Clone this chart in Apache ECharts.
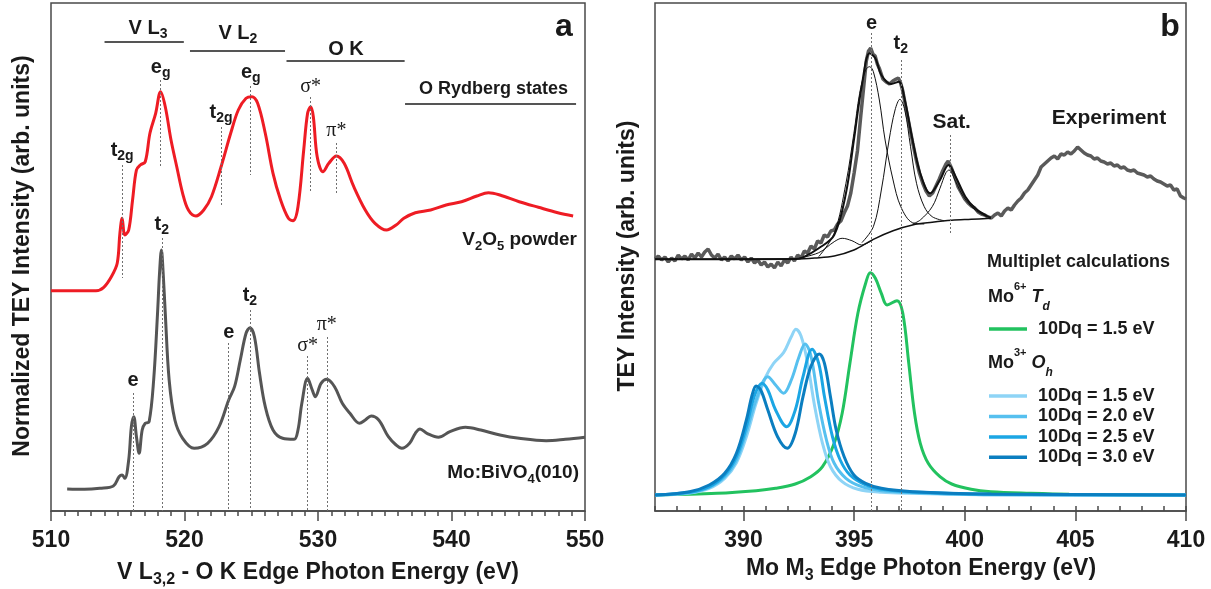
<!DOCTYPE html>
<html><head><meta charset="utf-8">
<script src="https://cdn.jsdelivr.net/npm/echarts@6/dist/echarts.min.js"></script>
<style>html,body{margin:0;padding:0;background:#fff}#c{width:1211px;height:589px}</style>
</head><body><div id="c"></div>
<script>
// ---------------- DATA ----------------
const ticksA = [510, 520, 530, 540, 550];
const ticksB = [390, 395, 400, 405, 410];

// Panel a: V L3,2 - O K edge spectra (energy eV, intensity arb.)
const v2o5 = [[510.00,220.3],[513.37,220.3],[513.95,223.7],[514.52,234.3],[514.96,247.7],[515.16,277.7],[515.33,292.7],[515.53,276],[515.82,281],[516.11,311],[516.40,341],[516.69,346],[517.06,349.3],[517.41,377.7],[517.84,397.7],[518.21,419.3],[518.56,404.3],[518.99,371],[519.42,344.3],[519.86,317.7],[520.29,301],[520.86,295],[521.44,301],[522.02,314.3],[522.74,344.3],[523.46,377.7],[524.03,401],[524.61,412.7],[525.04,414.3],[525.48,407.7],[526.05,377.7],[526.63,337.7],[527.20,311],[527.78,292.7],[528.13,290.3],[528.50,304.3],[528.93,361],[529.22,397.7],[529.45,404.3],[529.65,394.3],[529.94,354.3],[530.37,339.3],[530.81,347.7],[531.38,355],[531.96,347.7],[532.68,324.3],[533.54,301],[534.27,287.7],[535.13,281],[535.85,286],[536.43,292.7],[537.29,298.3],[538.44,301],[539.60,306],[540.75,309.3],[541.90,315],[542.77,318.3],[543.63,316],[545.07,309.3],[546.51,303.7],[547.96,298.3],[549.11,295]];
const moBiVO4 = [[511.21,22],[512.51,21.7],[513.66,22.7],[514.67,25],[515.10,34.3],[515.33,36],[515.53,32.7],[515.82,51],[516.02,84.3],[516.20,94.3],[516.40,74.3],[516.60,57.7],[516.83,81],[517.06,87.7],[517.35,89.3],[517.69,131],[517.98,197.7],[518.13,238],[518.27,261],[518.41,236],[518.56,197.7],[518.85,131],[519.28,91],[519.86,72.7],[520.72,62.7],[521.73,67.7],[522.59,84.3],[523.31,111],[523.75,124.3],[524.18,151],[524.61,177.7],[524.90,183.3],[525.24,174.3],[525.62,137.7],[526.05,104.3],[526.63,81],[527.35,72.7],[528.21,71.7],[528.50,81],[528.79,107.7],[529.22,132.7],[529.57,121],[529.80,114.3],[530.23,127.7],[530.66,131.7],[531.24,124.3],[531.82,107.7],[532.39,97.7],[533.11,87.7],[533.54,91],[533.98,95],[534.55,91],[535.27,74.3],[535.85,66],[536.28,62.7],[536.86,67.7],[537.29,77.7],[537.64,82],[538.16,77.7],[539.02,73.7],[539.88,79.3],[541.04,83.7],[542.19,81],[543.63,76],[545.07,72.7],[547.09,70.3],[548.53,71.7],[550,73.7]];

// Panel b: Mo M3 edge experiment + fit components
const experiment = [[386.0,252],[386.15,255],[386.3,251],[386.45,254],[386.6,249],[386.75,253],[386.9,250],[387.05,256],[387.2,252],[387.35,255],[387.5,251],[387.65,257],[387.8,253],[387.95,258],[388.1,254],[388.25,259],[388.4,262],[388.55,256],[388.7,253],[388.85,257],[389.0,251],[389.15,254],[389.3,250],[389.45,255],[389.6,252],[389.75,256],[389.9,251],[390.05,254],[390.2,249],[390.35,253],[390.5,248],[390.65,251],[390.8,246],[390.95,249],[391.1,244],[391.25,247],[391.4,243],[391.55,249],[391.7,245],[391.85,251],[392.0,248],[392.15,254],[392.3,250],[392.45,256],[392.6,253],[392.75,260],[392.9,258],[393.05,265],[393.2,262],[393.35,270],[393.5,268],[393.65,276],[393.8,274],[393.95,280],[394.1,281],[394.25,287],[394.4,290],[394.55,298],[394.7,305],[394.85,318],[395.0,338],[395.15,360],[395.3,395],[395.45,428],[395.55,450],[395.65,460],[395.75,463],[395.85,457],[395.95,455],[396.05,447],[396.15,442],[396.3,432],[396.45,429],[396.6,427],[396.75,430],[396.9,432],[397.0,433],[397.1,428],[397.2,420],[397.35,402],[397.5,385],[397.65,368],[397.8,352],[397.95,338],[398.1,328],[398.25,320],[398.4,315],[398.55,318],[398.7,325],[398.85,332],[399.0,340],[399.15,347],[399.25,350],[399.4,343],[399.55,334],[399.7,324],[399.85,318],[400.0,312],[400.15,308],[400.3,305],[400.45,303],[400.6,299],[400.75,297],[400.9,296],[401.05,294],[401.2,293],[401.35,296],[401.5,298],[401.65,295],[401.8,300],[401.95,303],[402.1,301],[402.25,306],[402.4,310],[402.55,313],[402.7,318],[402.85,321],[403.0,326],[403.15,331],[403.3,336],[403.45,344],[403.6,347],[403.75,350],[403.9,353],[404.05,355],[404.2,352],[404.35,357],[404.5,356],[404.65,359],[404.8,357],[404.95,360],[405.1,364],[405.25,361],[405.4,358],[405.55,356],[405.7,355],[405.85,352],[406.0,353],[406.15,350],[406.3,349],[406.45,347],[406.6,348],[406.75,345],[406.9,346],[407.05,343],[407.2,344],[407.35,341],[407.5,340],[407.65,341],[407.8,338],[407.95,337],[408.1,336],[408.25,334],[408.4,335],[408.55,332],[408.7,330],[408.85,329],[409.0,327],[409.15,325],[409.3,326],[409.45,321],[409.6,322],[409.75,315],[409.9,313],[410.0,312]];
const fitEnvelope = [[386.0,251.7],[392.34,252],[392.69,253.7],[393.40,262.7],[394.10,276],[394.63,317.7],[394.99,371],[395.34,424.3],[395.70,457.7],[395.96,452.7],[396.23,436],[396.67,427],[397.02,429.3],[397.29,411],[397.64,371],[397.99,337.7],[398.44,317.7],[398.88,331],[399.27,346],[399.59,334.3],[400.03,314.3],[400.47,302.7],[401.00,295],[401.18,293.3]];
const fitBackground = [[386.0,251.7],[392.34,252],[393.22,253],[394.10,255],[394.99,261],[395.87,271.7],[396.76,280.3],[397.64,286],[398.53,288.7],[399.41,290.7],[400.29,291.7],[401.18,292.7]];
const fitPre = [[392.34,252],[393.40,258.3],[394.10,269.3],[394.46,272.7],[394.90,270.3],[395.34,266],[395.87,271.7]];
const fitE = [[393.40,254.3],[394.10,277.7],[394.63,327.7],[394.99,377.7],[395.25,417.7],[395.52,441],[395.70,444.3],[395.87,439.3],[396.14,411],[396.40,371],[396.76,331],[397.11,304.3],[397.64,288.3],[398.17,287]];
const fitT2 = [[395.35,268.3],[395.87,284.3],[396.23,321],[396.58,371],[396.85,401],[397.07,411.7],[397.29,401],[397.55,364.3],[397.82,327.7],[398.17,304.3],[398.53,294.3],[399.06,290.3]];
const fitSat = [[397.64,287],[397.99,291],[398.53,304.3],[398.88,322.7],[399.15,338.3],[399.29,341],[399.59,329.3],[399.94,314.3],[400.47,301],[401.00,294.3]];

// Multiplet calculations
const mo6Td15 = [[386.0,16],[388.80,17.7],[390.57,20.3],[391.45,22.7],[392.34,27],[393.04,34.3],[393.57,44.3],[394.10,67.7],[394.46,97.7],[394.81,147.7],[395.17,197.7],[395.52,227.7],[395.73,238.3],[395.96,232.7],[396.23,217.7],[396.49,206],[396.94,210.3],[397.20,197.7],[397.47,147.7],[397.73,97.7],[397.99,67.7],[398.35,47.7],[398.88,34.3],[399.41,27],[400.29,21.7],[401.18,19.3],[402.95,17.7],[404.72,16.7],[410.0,16]];
const mo3Oh15 = [[386,16],[387.56,18],[388.45,22.7],[389.15,32.7],[389.68,48.3],[390.13,74.3],[390.57,107.7],[391.01,134.3],[391.36,147.7],[391.81,158.3],[392.16,174.3],[392.37,181.7],[392.60,175],[392.87,151],[393.22,104.3],[393.57,67.7],[393.93,44.3],[394.46,29.3],[395.17,21.7],[396.23,18.7],[397.64,17.7],[401.18,16.3],[410,16]];
const mo3Oh20 = [[386,16],[387.56,18.3],[388.45,23.7],[389.15,34.3],[389.68,51],[390.13,79.3],[390.57,111],[391.10,134.3],[391.45,126],[391.81,117.7],[392.16,131],[392.51,154.3],[392.78,167],[393.04,156],[393.40,107.7],[393.75,71],[394.10,47.7],[394.63,32.7],[395.34,24.3],[396.23,20.3],[397.64,18.3],[401.18,16.3],[410,16]];
const mo3Oh25 = [[386,16],[387.56,18.7],[388.45,24.3],[389.15,36],[389.68,54.3],[390.13,84.3],[390.48,114.3],[390.83,127.7],[391.10,121],[391.45,101],[391.95,84.3],[392.34,101],[392.69,134.3],[393.10,161.7],[393.40,147.7],[393.66,114.3],[394.02,74.3],[394.37,51],[394.81,36],[395.52,26],[396.23,21.7],[397.64,19],[401.18,16.7],[410,16]];
const mo3Oh30 = [[386.00,16],[387.56,19.3],[388.45,26],[389.15,37.7],[389.68,57.7],[390.13,91],[390.39,116],[390.57,125],[390.78,121],[391.10,101],[391.54,74.3],[391.98,62.7],[392.34,77.7],[392.69,114.3],[393.04,144.3],[393.43,157],[393.66,147.7],[393.93,114.3],[394.19,81],[394.55,54.3],[394.99,36],[395.52,27.7],[396.23,22.7],[397.64,19.3],[401.18,17],[410,16]];

// peak-marker lines [energy, top, bottom] (data units)
const markRed = [[515.33,346,233],[518.21,431,344],[522.74,384,306],[524.96,425,336],[529.45,414,318],[531.38,368,318]];
const markGray = [[516.14,118,0],[518.3,273,0],[523.31,168,0],[524.9,201,0],[529.22,155,0],[530.66,174,0]];
const markB = [[395.79,478,0],[397.11,451,0],[399.36,376,278]];
// edge ranges [from, to, level]
const ranges = [[514.01,519.95,469],[520.41,527.53,460],[527.64,536.49,450],[536.52,549.33,407]];
// ---------------- CHART ----------------
const F = '"Liberation Sans", Arial, Helvetica, sans-serif';
const FS = '"Liberation Serif", "Times New Roman", serif';
const INK = '#1a1a1a';
const AX = '#4a4a4a';
const chart = echarts.init(document.getElementById('c'), null, {renderer: 'canvas'});

function ln(data, panel, color, width, extra) {
  return Object.assign({
    type: 'line', data: data, xAxisIndex: panel === 0 ? 0 : 1, yAxisIndex: panel,
    showSymbol: false, symbol: 'none', smooth: 0.35, silent: true, animation: false,
    lineStyle: {color: color, width: width}, itemStyle: {color: color}
  }, extra || {});
}
function vmarks(arr, extraData) {
  const d = arr.map(a => [{coord: [a[0], a[1]]}, {coord: [a[0], a[2]]}]);
  return {
    symbol: ['none', 'none'], silent: true, animation: false, label: {show: false},
    lineStyle: {type: [2, 2], color: '#707070', width: 1}, emphasis: {disabled: true},
    data: d.concat(extraData || [])
  };
}
const rangeLines = ranges.map(r => [{coord: [r[0], r[2]], lineStyle: {type: 'solid', color: '#555', width: 2}}, {coord: [r[1], r[2]]}]);

const axisCommon = {
  type: 'value', splitLine: {show: false},
  axisLine: {show: true, onZero: false, lineStyle: {color: AX, width: 1.5}},
  axisTick: {show: true, length: 10, lineStyle: {color: AX, width: 1.5}},
  axisLabel: {fontFamily: F, fontWeight: 'bold', fontSize: 23, color: INK, margin: 18}
};

chart.setOption({
  animation: false,
  backgroundColor: '#fff',
  grid: [
    {left: 51, top: 3, width: 534, height: 508, show: true, borderColor: AX, borderWidth: 1.5},
    {left: 655, top: 3, width: 531, height: 508, show: true, borderColor: AX, borderWidth: 1.5}
  ],
  xAxis: [
    Object.assign({}, axisCommon, {gridIndex: 0, min: 510, max: 550, interval: 10,
      minorTick: {show: true, splitNumber: 10, length: 5, lineStyle: {color: AX, width: 1.5}},
      axisLabel: Object.assign({}, axisCommon.axisLabel, {customValues: ticksA})}),
    Object.assign({}, axisCommon, {gridIndex: 1, min: 386, max: 410,
      axisTick: Object.assign({}, axisCommon.axisTick, {customValues: ticksB}),
      axisLabel: Object.assign({}, axisCommon.axisLabel, {customValues: ticksB})}),
    {type: 'value', gridIndex: 1, min: 386, max: 410, interval: 1, splitLine: {show: false},
      axisLine: {show: false}, axisLabel: {show: false},
      axisTick: {show: true, length: 5, lineStyle: {color: AX, width: 1.5}}}
  ],
  yAxis: [
    {type: 'value', gridIndex: 0, min: 0, max: 508, show: false},
    {type: 'value', gridIndex: 1, min: 0, max: 508, show: false}
  ],
  series: [
    ln(v2o5, 0, '#ee1c24', 3, {markLine: vmarks(markRed, rangeLines)}),
    ln(moBiVO4, 0, '#555555', 3, {markLine: vmarks(markGray)}),
    ln(experiment, 1, '#5a5a5a', 3.5, {smooth: false, markLine: vmarks(markB)}),
    ln(fitBackground, 1, '#111', 1.5),
    ln(fitPre, 1, '#111', 1),
    ln(fitE, 1, '#111', 1),
    ln(fitT2, 1, '#111', 1),
    ln(fitSat, 1, '#111', 1),
    ln(fitEnvelope, 1, '#111', 2),
    ln(mo6Td15, 1, '#22c25f', 3),
    ln(mo3Oh15, 1, '#8ed4f6', 3),
    ln(mo3Oh20, 1, '#56c0ef', 3),
    ln(mo3Oh25, 1, '#1ba6e4', 3),
    ln(mo3Oh30, 1, '#0b7ec0', 3)
  ]
});

// ---------------- TEXT ----------------
function rich(sz, tall) {
  const s = Math.round(sz * 0.68), p = Math.round(sz * 0.62);
  const L = Math.round(sz * (tall ? 1.8 : 1.3));
  const Ls = Math.round(sz * (tall ? 1.04 : 0.54));
  const Lp = Math.round(sz * (tall ? 0.5 : 0.45));
  return {
    m: {fontFamily: F, fontWeight: 'bold', fontSize: sz, lineHeight: L, fill: INK},
    s: {fontFamily: F, fontWeight: 'bold', fontSize: s, lineHeight: Ls, verticalAlign: 'bottom', fill: INK},
    p: {fontFamily: F, fontWeight: 'bold', fontSize: p, lineHeight: Lp, verticalAlign: 'top', fill: INK},
    i: {fontFamily: F, fontWeight: 'bold', fontStyle: 'italic', fontSize: sz, lineHeight: L, fill: INK},
    si: {fontFamily: F, fontWeight: 'bold', fontStyle: 'italic', fontSize: s, lineHeight: Ls, verticalAlign: 'bottom', fill: INK},
    g: {fontFamily: FS, fontWeight: 'normal', fontSize: sz, lineHeight: L, fill: INK}
  };
}
function T(x, y, text, sz, opts) {
  opts = opts || {};
  const el = {type: 'text', x: x, y: y, silent: true, z: 50,
    style: Object.assign({text: text, rich: rich(sz, opts.tall), align: 'center', verticalAlign: 'middle', fill: INK,
      font: 'bold ' + sz + 'px ' + F}, opts.style || {})};
  if (opts.rotation) el.rotation = opts.rotation;
  return el;
}
// annotations in data coordinates
const labelsA = [
  [515.33, 361, '{m|t}{s|2g}'], [518.21, 444, '{m|e}{s|g}'], [522.74, 399, '{m|t}{s|2g}'], [524.96, 439, '{m|e}{s|g}'],
  [529.45, 424, '{g|σ*}'], [531.38, 380, '{g|π*}'],
  [516.14, 131, '{m|e}'], [518.3, 287, '{m|t}{s|2}'], [523.31, 179, '{m|e}'], [524.9, 216, '{m|t}{s|2}'],
  [529.22, 165, '{g|σ*}'], [530.66, 186, '{g|π*}']
];
const rangeLabels = [[517.27, 483, '{m|V L}{s|3}', 20], [524.0, 478, '{m|V L}{s|2}', 20], [532.1, 462, '{m|O K}', 20], [543.15, 422, '{m|O Rydberg states}', 18]];
const labelsB = [[395.79, 488, '{m|e}', 20], [397.11, 468, '{m|t}{s|2}', 20], [399.41, 389, '{m|Sat.}', 21]];

const g = [];
labelsA.forEach(a => { const p = chart.convertToPixel({xAxisIndex: 0, yAxisIndex: 0}, [a[0], a[1]]); g.push(T(p[0], p[1], a[2], 20)); });
rangeLabels.forEach(a => { const p = chart.convertToPixel({xAxisIndex: 0, yAxisIndex: 0}, [a[0], a[1]]); g.push(T(p[0], p[1], a[2], a[3])); });
labelsB.forEach(a => { const p = chart.convertToPixel({xAxisIndex: 1, yAxisIndex: 1}, [a[0], a[1]]); g.push(T(p[0], p[1], a[2], a[3])); });

// panel letters, sample names
g.push(T(564, 27, '{m|a}', 32));
g.push(T(1170, 27, '{m|b}', 32));
g.push(T(577, 240, '{m|V}{s|2}{m|O}{s|5}{m| powder}', 19, {style: {align: 'right'}}));
g.push(T(579, 473, '{m|Mo:BiVO}{s|4}{m|(010)}', 19, {style: {align: 'right'}}));
g.push(T(1109, 118, '{m|Experiment}', 21));
// axis titles
g.push(T(318, 573, '{m|V L}{s|3,2}{m| - O K Edge Photon Energy (eV)}', 23));
g.push(T(921, 569, '{m|Mo M}{s|3}{m| Edge Photon Energy (eV)}', 23));
g.push(T(23, 256, '{m|Normalized TEY Intensity (arb. units)}', 23, {rotation: Math.PI / 2}));
g.push(T(628, 256, '{m|TEY Intensity (arb. units)}', 23, {rotation: Math.PI / 2}));
// legend block
g.push(T(987, 262, '{m|Multiplet calculations}', 18, {style: {align: 'left'}}));
g.push(T(988, 297, '{m|Mo}{p|6+}{m| }{i|T}{si|d}', 18, {tall: true, style: {align: 'left'}}));
g.push(T(988, 363, '{m|Mo}{p|3+}{m| }{i|O}{si|h}', 18, {tall: true, style: {align: 'left'}}));
const legendRows = [[329, '#22c25f', '10Dq = 1.5 eV'], [396, '#8ed4f6', '10Dq = 1.5 eV'], [416.5, '#56c0ef', '10Dq = 2.0 eV'], [437, '#1ba6e4', '10Dq = 2.5 eV'], [457.3, '#0b7ec0', '10Dq = 3.0 eV']];
legendRows.forEach(r => {
  g.push({type: 'line', silent: true, z: 50, shape: {x1: 989, y1: r[0], x2: 1027, y2: r[0]}, style: {stroke: r[1], lineWidth: 3.5}});
  g.push(T(1038, r[0], '{m|' + r[2] + '}', 18, {style: {align: 'left'}}));
});
chart.setOption({graphic: g});
</script></body></html>
